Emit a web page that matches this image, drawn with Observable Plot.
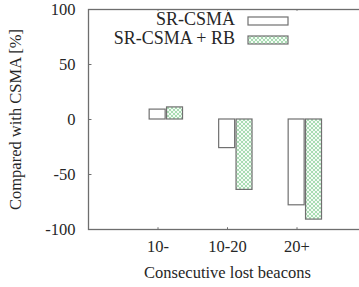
<!DOCTYPE html>
<html>
<head>
<meta charset="utf-8">
<script src="https://cdn.jsdelivr.net/npm/d3@7"></script>
<script src="https://cdn.jsdelivr.net/npm/@observablehq/plot@0.6"></script>
<style>
  html, body { margin: 0; padding: 0; background: #fff; overflow: hidden; }
  #chart { width: 359px; height: 287px; overflow: hidden; }
  #chart svg, #chart svg text { font-family: "Liberation Serif", "Times New Roman", Times, serif !important; }
</style>
</head>
<body>
<div id="chart"></div>
<script>
const categories = ["10-", "10-20", "20+"];
const seriesNames = ["SR-CSMA", "SR-CSMA + RB"];
const srCsma = [9, -26, -78];
const srCsmaRB = [11, -64, -91];
const yTicks = [100, 50, 0, -50, -100];

const rows = [];
categories.forEach((c, i) => {
  rows.push({cat: c, i, series: seriesNames[0], value: srCsma[i], k: 0});
  rows.push({cat: c, i, series: seriesNames[1], value: srCsmaRB[i], k: 1});
});

const axisColor = "#6e6e6e";
const barStroke = "#707070";
const textColor = "#262626";

const W = 359, H = 287;
const ML = 88, MT = 9, MB = 58, MR = -7;

const chart = Plot.plot({
  width: W,
  height: H,
  marginLeft: ML,
  marginRight: MR,
  marginTop: MT,
  marginBottom: MB,
  style: {fontSize: "16.5px", color: textColor, background: "#fff", overflow: "hidden"},
  x: {domain: [-1, 3]},
  y: {domain: [-100, 100]},
  marks: [
    Plot.frame({stroke: axisColor, strokeWidth: 1.3}),
    Plot.rectY(rows, {
      x1: d => d.k === 0 ? d.i - 0.12 : d.i + 0.13,
      x2: d => d.k === 0 ? d.i + 0.11 : d.i + 0.36,
      y1: 0,
      y2: "value",
      fill: d => d.k === 0 ? "#fff" : "url(#greenHatch)",
      stroke: barStroke,
      strokeWidth: 1.2
    }),
    Plot.ruleY(yTicks, {x1: -1, x2: -0.95, stroke: axisColor}),
    Plot.ruleX(categories.map((c, i) => i), {y1: -100, y2: -98.4, stroke: axisColor}),
    Plot.ruleX(categories.map((c, i) => i), {y1: 100, y2: 98.4, stroke: axisColor}),
    Plot.axisY(yTicks, {tickSize: 0, tickPadding: 13, fontSize: 16.5, tickFormat: d => String(d),
      label: "Compared with CSMA [%]", labelAnchor: "center", labelArrow: "none", labelOffset: 79}),
    Plot.axisX(categories.map((c, i) => i), {tickSize: 0, tickPadding: 11, fontSize: 16.5,
      tickFormat: i => categories[i],
      label: "Consecutive lost beacons", labelAnchor: "center", labelArrow: "none", labelOffset: 48})
  ]
});

const svg = d3.select(chart);
const defs = svg.insert("defs", ":first-child");
const pat = defs.append("pattern")
  .attr("id", "greenHatch")
  .attr("patternUnits", "userSpaceOnUse")
  .attr("width", 4).attr("height", 4);
pat.append("rect").attr("width", 4).attr("height", 4).attr("fill", "#f4fbf5");
pat.append("path").attr("d", "M0,0L4,4M4,0L0,4").attr("stroke", "#a9dcb3").attr("stroke-width", 1);

const legend = svg.append("g").attr("font-size", 18).attr("fill", textColor);
seriesNames.forEach((name, j) => {
  const swY = 21 + j * 19;
  legend.append("text").attr("x", 235).attr("y", swY + 3.5)
    .attr("text-anchor", "end").text(name);
  legend.append("rect").attr("x", 248).attr("y", swY - 4).attr("width", 40).attr("height", 8)
    .attr("fill", j === 0 ? "#fff" : "url(#greenHatch)")
    .attr("stroke", barStroke).attr("stroke-width", 1.2);
});

document.getElementById("chart").appendChild(chart);
</script>
</body>
</html>
